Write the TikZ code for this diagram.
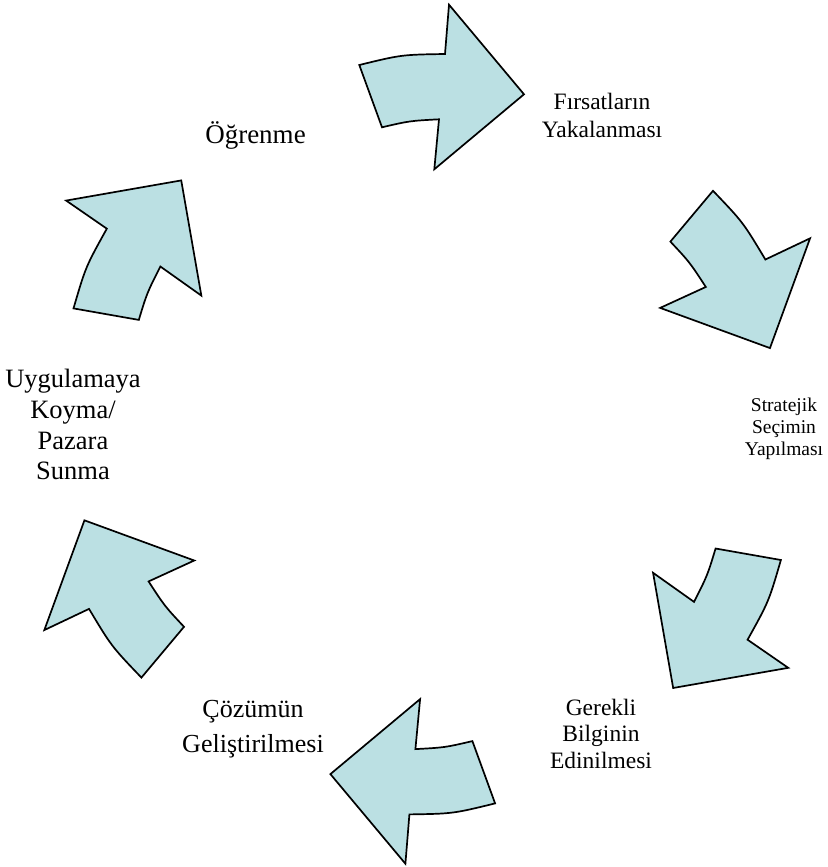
\documentclass[tikz,border=0pt]{standalone}
\usepackage{fontspec}
\setmainfont{Liberation Serif}
\usepackage{tikz}
\usepackage{xcolor}
\definecolor{cyclefill}{RGB}{187,224,227}
\newcommand{\cyclearrow}{(359.3,65) .. controls (401.45,54.7) .. (445,54) -- (449,4.7) -- (524,94.3) -- (434.3,169.3) -- (439,119.3) .. controls (409.5,120.9) .. (382,127.3) -- cycle}

\begin{document}
\begin{tikzpicture}[line cap=round,line join=miter,x=1pt,y=-1pt,
    arw/.style={line width=1.7pt,fill=cyclefill},
    lbl/.style={align=center,inner sep=0pt}]
                \useasboundingbox (0,0) rectangle (827,867);
                \draw [arw] \cyclearrow;
                \draw [arw,rotate around={-60:(427.2,434.2)}] \cyclearrow;
                \draw [arw,rotate around={-120:(427.2,434.2)}] \cyclearrow;
                \draw [arw,rotate around={-180:(427.2,434.2)}] \cyclearrow;
                \draw [arw,rotate around={-240:(427.2,434.2)}] \cyclearrow;
                \draw [arw,rotate around={-300:(427.2,434.2)}] \cyclearrow;
                \node [lbl,font=\fontsize{27}{31}\selectfont] (ogrenme) at (255.5,135.2) {Öğrenme};
                \node [lbl,font=\fontsize{23.5}{27.3}\selectfont] (firsat) at (602,115.5) {Fırsatların\\Yakalanması};
                \node [lbl,font=\fontsize{19.5}{22}\selectfont] (strateji) at (784,428.8) {Stratejik\\Seçimin\\Yapılması};
                \node [lbl,font=\fontsize{23.5}{26.5}\selectfont] (bilgi) at (601,733.6) {Gerekli\\Bilginin\\Edinilmesi};
                \node [lbl,font=\fontsize{26}{35}\selectfont] (cozum) at (253,729.3) {Çözümün\\Geliştirilmesi};
                \node [lbl,font=\fontsize{26.5}{30.8}\selectfont] (uygula) at (73,424.6) {Uygulamaya\\Koyma/\\Pazara\\Sunma};
            \end{tikzpicture}
\end{document}
